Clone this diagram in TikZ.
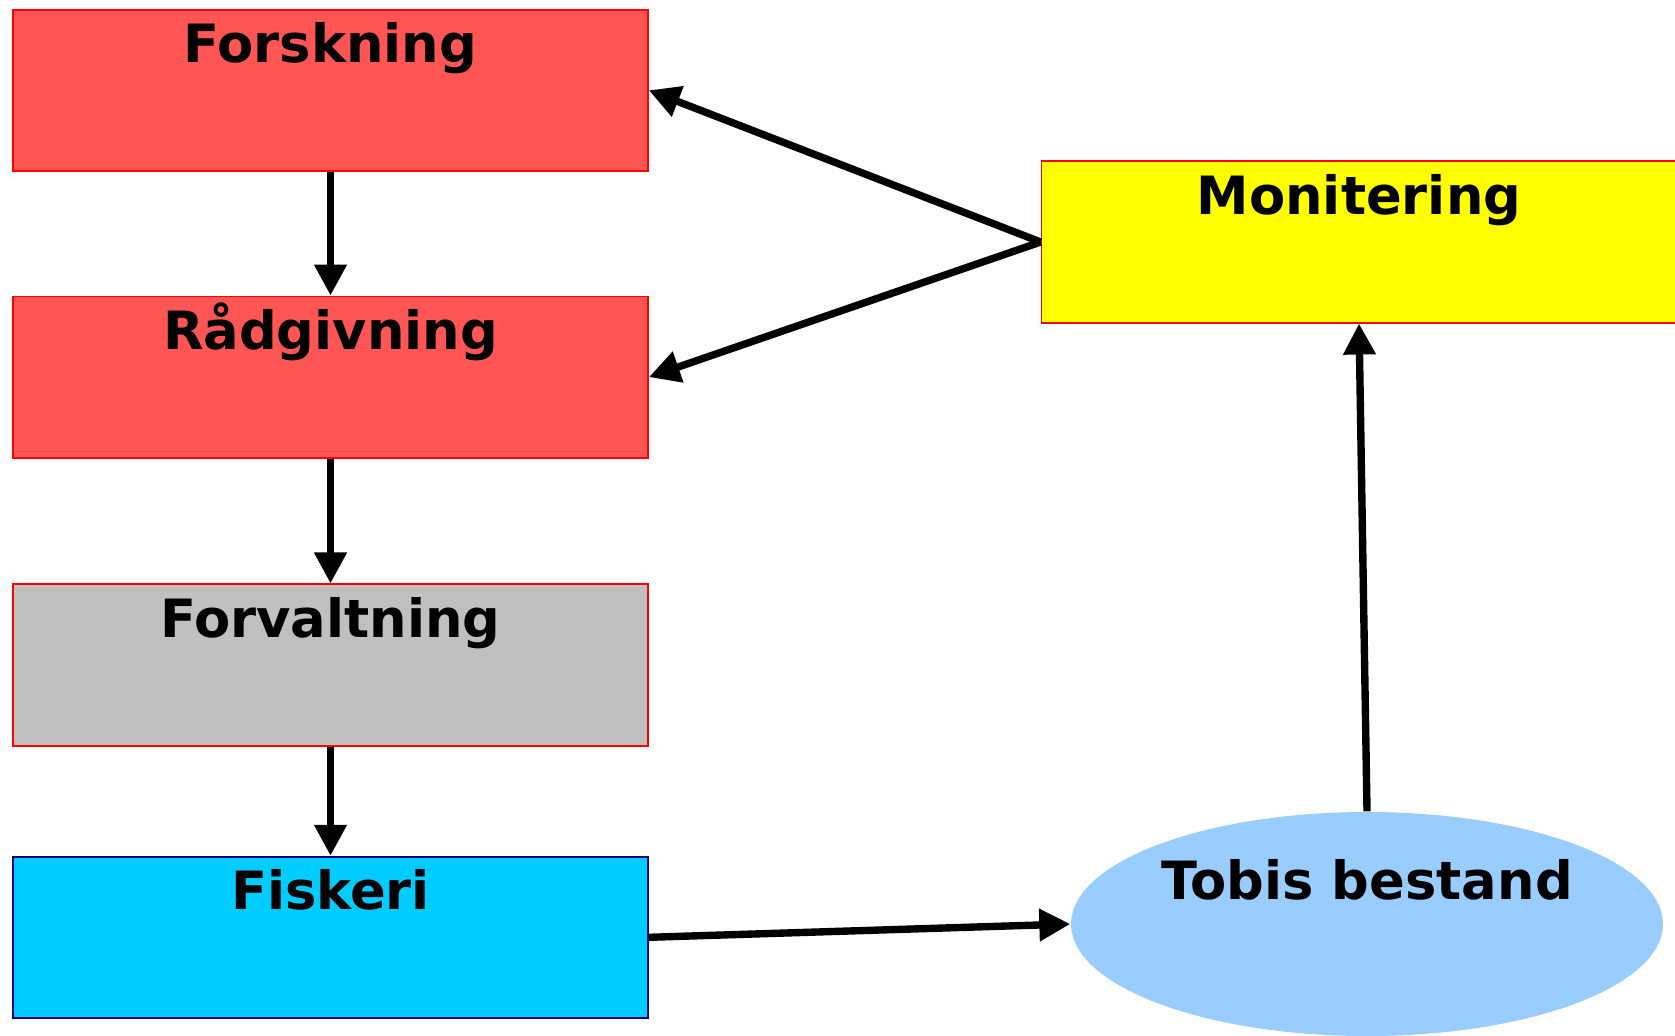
\documentclass[tikz,border=0pt]{standalone}
\usepackage{fontspec}
\setmainfont{DejaVu Sans}
\definecolor{boxred}{RGB}{255,85,85}
\definecolor{boxgray}{RGB}{192,192,192}
\definecolor{boxcyan}{RGB}{0,204,255}
\definecolor{boxnavy}{RGB}{0,0,128}
\definecolor{boxyellow}{RGB}{255,255,0}
\definecolor{tobisblue}{RGB}{153,204,255}
\usepackage{tikz}
\usetikzlibrary{arrows.meta,shapes.geometric}

\begin{document}
\begin{tikzpicture}[
    box/.style={draw=red, line width=0.5pt, inner sep=0pt, text width=6.35cm, align=center,
      text height=0.53cm, text depth=1.083cm, font=\fontsize{15}{18}\selectfont\bfseries},
    flow/.style={-{Triangle[length=0.31cm,width=0.31cm]}, line width=2.1pt}]
  \useasboundingbox (0,0) rectangle (16.75,10.35);
  \node[box, fill=boxred] (forskning) at (3.305,9.447) {Forskning};
  \node[box, fill=boxred] (raadgivning) at (3.305,6.579) {Rådgivning};
  \node[box, fill=boxgray] (forvaltning) at (3.305,3.70) {Forvaltning};
  \node[box, fill=boxcyan, draw=boxnavy] (fiskeri) at (3.305,0.977) {Fiskeri};
  \node[box, fill=boxyellow] (monitering) at (13.59,7.93) {Monitering};
  \node[ellipse, fill=tobisblue, inner sep=0pt, minimum width=5.92cm, minimum height=2.24cm,
    text height=0.4cm, text depth=0.9cm, font=\fontsize{15}{18}\selectfont\bfseries]
    (tobis) at (13.67,1.11) {Tobis bestand};
  \draw[flow] (forskning) -- (raadgivning);
  \draw[flow] (raadgivning) -- (forvaltning);
  \draw[flow] (forvaltning) -- (fiskeri);
  \draw[flow] (monitering.west) -- (forskning.east);
  \draw[flow] (monitering.west) -- (raadgivning.east);
  \draw[flow] (fiskeri.east) -- (tobis.west);
  \draw[flow] (tobis.north) -- (monitering.south);
\end{tikzpicture}
\end{document}
